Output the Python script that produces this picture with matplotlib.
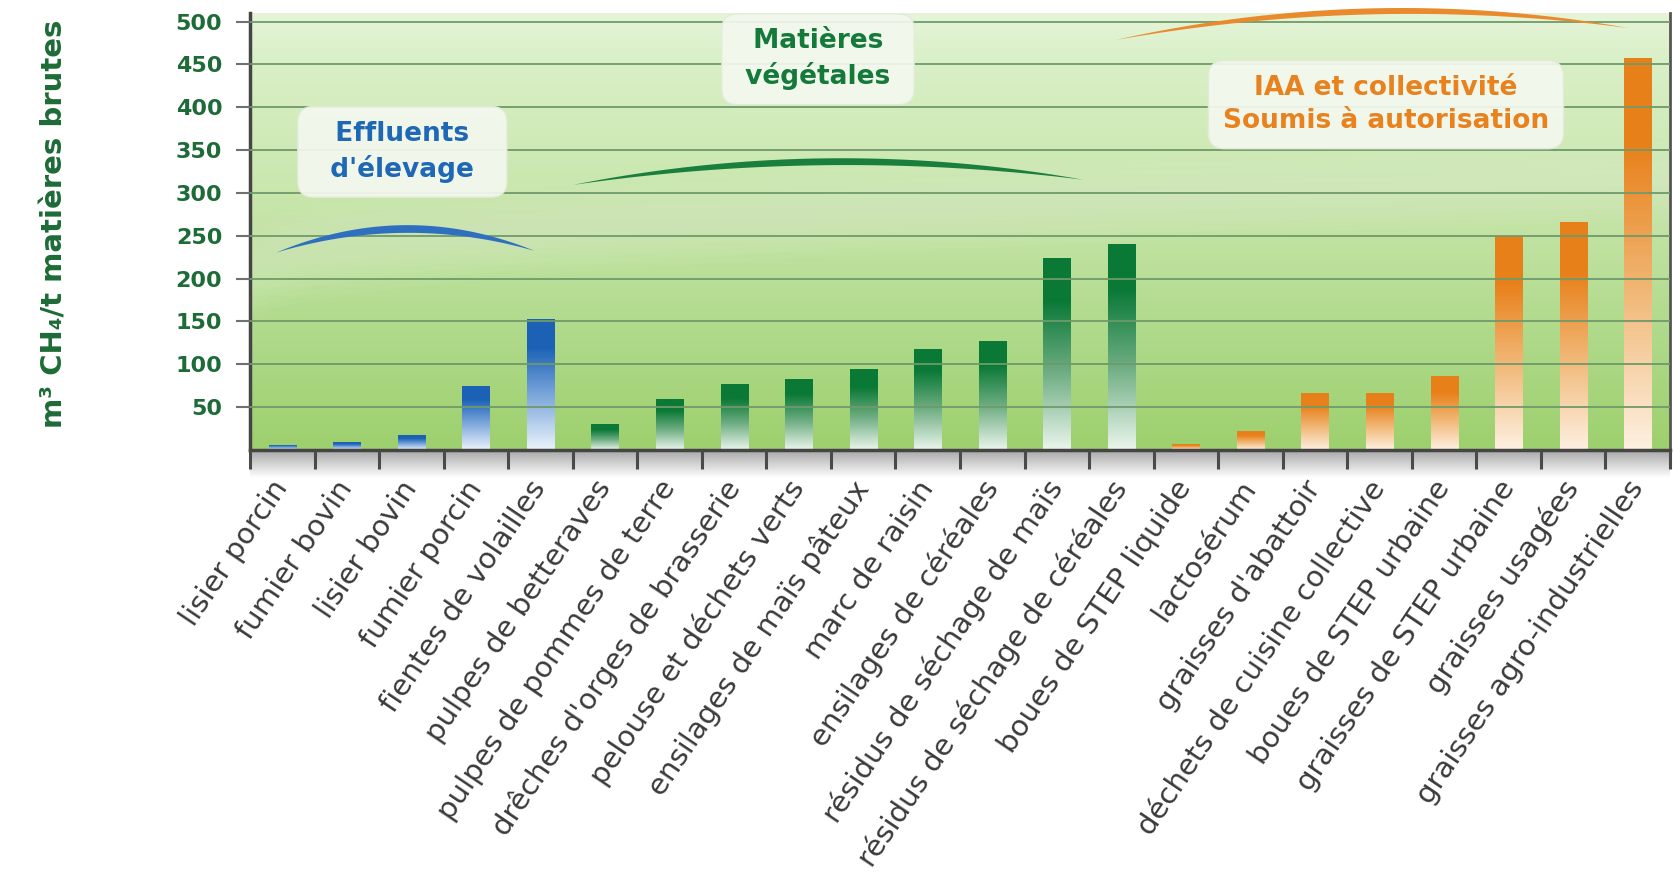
import numpy as np
import matplotlib.pyplot as plt
from matplotlib.colors import LinearSegmentedColormap

# Methane potential (m3 CH4 / t raw matter)
effluent_labels = ["lisier porcin", "fumier bovin", "lisier bovin", "fumier porcin",
                   "fientes de volailles"]
effluent_values = [6, 9, 17, 75, 153]

vegetal_labels = ["pulpes de betteraves", "pulpes de pommes de terre",
                  "drêches d'orges de brasserie", "pelouse et déchets verts",
                  "ensilages de maïs pâteux", "marc de raisin", "ensilages de céréales",
                  "résidus de séchage de maïs", "résidus de séchage de céréales"]
vegetal_values = [30, 59, 77, 83, 94, 118, 127, 224, 240]

iaa_labels = ["boues de STEP liquide", "lactosérum", "graisses d'abattoir",
              "déchets de cuisine collective", "boues de STEP urbaine",
              "graisses de STEP urbaine", "graisses usagées", "graisses agro-industrielles"]
iaa_values = [7, 22, 66, 67, 86, 250, 266, 458]

y_ticks = [50, 100, 150, 200, 250, 300, 350, 400, 450, 500]

# group colours: (dark top, mid, light bottom)
BLUE = ("#1b62b6", "#7fa9dc", "#eaf2fb")
GREEN = ("#0a7936", "#6fae83", "#eaf5ec")
ORANGE = ("#e8801a", "#f1b877", "#fdf0e0")

labels = effluent_labels + vegetal_labels + iaa_labels
values = effluent_values + vegetal_values + iaa_values
colors = [BLUE] * len(effluent_values) + [GREEN] * len(vegetal_values) + [ORANGE] * len(iaa_values)

plt.rcParams['font.family'] = ['DejaVu Sans']

W, H = 1673, 888
fig = plt.figure(figsize=(W / 100, H / 100), dpi=100)
fig.patch.set_facecolor('white')
L, R, B, T = 250 / W, 1670 / W, 1 - 450 / H, 1 - 13 / H
ax = fig.add_axes([L, B, R - L, T - B])

# grey shadow strip under the x axis
sh = fig.add_axes([L, 1 - 478 / H, R - L, 28 / H], zorder=-1)
sh.imshow(np.linspace(0, 1, 50).reshape(-1, 1),
          cmap=LinearSegmentedColormap.from_list('sh', ['#a8a8a8', '#ffffff']),
          aspect='auto', extent=[0, 1, 0, 1])
sh.axis('off')

n = len(values)
xmin, xmax, ymax = -0.5, n - 0.5, 510

# background gradient + light swoosh
bg = LinearSegmentedColormap.from_list('bg', [(0, '#9dd06e'), (0.3, '#b2db8e'),
                                              (0.6, '#cae7ae'), (0.9, '#daf0c8'), (1, '#e6f5da')])
ax.imshow(np.linspace(0, 1, 256).reshape(-1, 1), cmap=bg, origin='lower',
          extent=[xmin, xmax, 0, ymax], aspect='auto', zorder=0)
xs = np.linspace(xmin, xmax, 300)
frac = (xs - xmin) / (xmax - xmin)
low = 150 + 120 * np.sqrt(frac)
for k in range(6):
    ax.fill_between(xs, low + 8 * k, low + 8 * k + 70 - 20 * frac, color='white',
                    alpha=0.035, lw=0, zorder=0.2)

# bars with vertical gradient
x = np.arange(n)
bars = ax.bar(x, values, width=0.42, color='none', lw=0, zorder=2)
for rect, (dark, mid, light) in zip(bars, colors):
    cm = LinearSegmentedColormap.from_list('', [(0, light), (0.4, mid), (0.78, dark), (1, dark)])
    x0, w, h = rect.get_x(), rect.get_width(), rect.get_height()
    im = ax.imshow(np.linspace(0, 1, 100).reshape(-1, 1), cmap=cm, origin='lower',
                   extent=[x0, x0 + w, 0, h], aspect='auto', zorder=2)
    im.set_clip_path(rect)


def crescent(x0, x1, y0, y1, rise, thick, color):
    t = np.linspace(0, 1, 200)
    xx = x0 + (x1 - x0) * t
    base = y0 + (y1 - y0) * t
    bump = 4 * t * (1 - t)
    ax.fill_between(xx, base + (rise - thick) * bump, base + rise * bump,
                    color=color, lw=0, zorder=3, clip_on=False)


crescent(-0.1, 3.9, 231, 233, 31, 9, '#2e6fc0')
crescent(4.5, 12.4, 310, 316, 28, 8, '#1a7f3c')
crescent(12.9, 20.85, 479, 493, 30, 7, '#e98a2c')

box = dict(boxstyle='round,pad=0.55,rounding_size=0.6', fc='#f4f8ef', ec='#e2ebd8', alpha=0.92)
ax.text(1.86, 348, "  Effluents  \n  d'élevage  ", color='#1f68b6', ha='center', va='center',
        fontsize=19, fontweight='bold', linespacing=1.35, bbox=box, zorder=4)
ax.text(8.3, 456, " Matières \n végétales ", color='#137a3a', ha='center', va='center',
        fontsize=19, fontweight='bold', linespacing=1.35, bbox=box, zorder=4)
ax.text(17.1, 403, "IAA et collectivité\nSoumis à autorisation", color='#e8821e', ha='center',
        va='center', fontsize=19, fontweight='bold', linespacing=1.35, bbox=box, zorder=4)

ax.set_xlim(xmin, xmax)
ax.set_ylim(0, ymax)

ax.set_yticks(y_ticks)
ax.yaxis.grid(True, color='#6f9a6a', lw=1.3)
ax.set_axisbelow(False)
for gl in ax.get_ygridlines():
    gl.set_zorder(1)
ax.tick_params(axis='y', length=10, width=1.5, color='#707070', pad=10,
               labelsize=16, labelcolor='#1d6b36')
for t in ax.get_yticklabels():
    t.set_fontweight('bold')

ax.set_xticks(x)
ax.set_xticklabels(labels, rotation=56, ha='right', va='center', rotation_mode='anchor',
                   fontsize=21, color='#3a3a3a')
ax.tick_params(axis='x', which='major', length=0, pad=24)
ax.set_xticks(np.arange(xmin, xmax + 0.5, 1), minor=True)
ax.tick_params(axis='x', which='minor', length=14, width=2.2, color='#4a4a4a')

ax.spines['top'].set_visible(False)
for s in ('left', 'bottom'):
    ax.spines[s].set_color('#454545')
    ax.spines[s].set_linewidth(2.5)
ax.spines['right'].set_color('#555555')
ax.spines['right'].set_linewidth(2)

fig.text(55 / W, 1 - 224 / H, "m³ CH₄/t matières brutes", rotation=90, ha='center',
         va='center', fontsize=21, fontweight='bold', color='#1d6b36')

fig.savefig('out.png', dpi=100)
